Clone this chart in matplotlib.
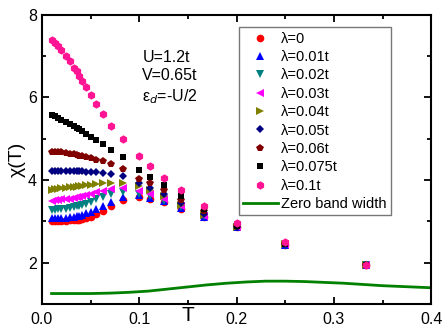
import matplotlib
matplotlib.use("Agg")
from matplotlib import pyplot as plt

# temperatures of the data points
T = [0.01, 0.0133, 0.0167, 0.02, 0.025, 0.0286, 0.0333, 0.0357, 0.0385, 0.0417,
     0.0455, 0.05, 0.0556, 0.0625, 0.0714, 0.0833, 0.1, 0.111, 0.125, 0.143,
     0.167, 0.2, 0.25, 0.333]

chi_0 = [3.00, 3.00, 3.00, 3.01, 3.01, 3.02, 3.02, 3.03, 3.04, 3.06, 3.08, 3.11,
         3.17, 3.26, 3.38, 3.52, 3.60, 3.55, 3.46, 3.31, 3.10, 2.85, 2.43, 1.93]
chi_001 = [3.08, 3.08, 3.08, 3.09, 3.09, 3.10, 3.10, 3.12, 3.14, 3.16, 3.19, 3.22,
           3.30, 3.37, 3.47, 3.60, 3.63, 3.57, 3.48, 3.32, 3.11, 2.85, 2.43, 1.93]
chi_002 = [3.27, 3.28, 3.29, 3.30, 3.31, 3.32, 3.34, 3.36, 3.38, 3.40, 3.43, 3.47,
           3.54, 3.60, 3.67, 3.71, 3.67, 3.61, 3.50, 3.34, 3.12, 2.86, 2.43, 1.93]
chi_003 = [3.50, 3.51, 3.52, 3.53, 3.54, 3.55, 3.56, 3.58, 3.60, 3.62, 3.64, 3.67,
           3.71, 3.74, 3.78, 3.80, 3.74, 3.67, 3.54, 3.36, 3.13, 2.86, 2.44, 1.94]
chi_004 = [3.77, 3.78, 3.79, 3.80, 3.81, 3.82, 3.83, 3.84, 3.85, 3.86, 3.87, 3.88,
           3.90, 3.92, 3.93, 3.93, 3.85, 3.75, 3.62, 3.40, 3.16, 2.86, 2.44, 1.94]
chi_005 = [4.21, 4.21, 4.21, 4.21, 4.21, 4.21, 4.21, 4.21, 4.21, 4.21, 4.20, 4.20,
           4.19, 4.18, 4.15, 4.09, 3.93, 3.80, 3.67, 3.45, 3.18, 2.87, 2.44, 1.94]
chi_006 = [4.68, 4.68, 4.67, 4.67, 4.65, 4.64, 4.62, 4.61, 4.59, 4.57, 4.55, 4.53,
           4.49, 4.45, 4.38, 4.27, 4.03, 3.92, 3.76, 3.52, 3.24, 2.88, 2.45, 1.94]
chi_0075 = [5.58, 5.54, 5.50, 5.46, 5.40, 5.36, 5.30, 5.27, 5.23, 5.18, 5.12, 5.04,
            4.96, 4.87, 4.72, 4.56, 4.25, 4.07, 3.89, 3.62, 3.30, 2.88, 2.45, 1.94]
chi_01 = [7.40, 7.32, 7.24, 7.15, 7.00, 6.88, 6.72, 6.63, 6.52, 6.41, 6.25, 6.05,
          5.84, 5.60, 5.30, 5.00, 4.57, 4.33, 4.06, 3.75, 3.38, 2.97, 2.50, 1.95]

# zero band width curve
T_zb = [0.01, 0.03, 0.05, 0.07, 0.09, 0.11, 0.13, 0.15, 0.17, 0.19, 0.21, 0.23,
        0.25, 0.27, 0.29, 0.31, 0.33, 0.35, 0.37, 0.4]
chi_zb = [1.25, 1.25, 1.25, 1.26, 1.28, 1.31, 1.36, 1.41, 1.46, 1.50, 1.53, 1.55,
          1.55, 1.54, 1.52, 1.50, 1.47, 1.44, 1.42, 1.39]

labels = ["λ=0", "λ=0.01t", "λ=0.02t", "λ=0.03t", "λ=0.04t", "λ=0.05t",
          "λ=0.06t", "λ=0.075t", "λ=0.1t"]
series = [chi_0, chi_001, chi_002, chi_003, chi_004, chi_005, chi_006, chi_0075, chi_01]
markers = ["o", "^", "v", "<", ">", "D", "p", "s", "h"]
colors = ["#ff0000", "#0000ff", "#008080", "#ff00ff", "#808000", "#000080",
          "#800000", "#000000", "#ff1493"]
sizes = [5.5, 5.5, 5.5, 5.5, 5.5, 4.5, 5.5, 5, 6]

plt.rcParams["font.family"] = "Liberation Sans"
fig = plt.figure(figsize=(4.45, 3.31), dpi=100)
ax = fig.add_axes([0.094, 0.082, 0.875, 0.873])

for chi, lab, m, c, s in zip(series, labels, markers, colors, sizes):
    ax.plot(T, chi, linestyle="none", marker=m, color=c, markersize=s,
            markeredgewidth=0, label=lab)
ax.plot(T_zb, chi_zb, color="#008000", linewidth=2, label="Zero band width")

ax.set_xlim(0, 0.4)
ax.set_ylim(1, 8)
ax.set_xticks([0.0, 0.1, 0.2, 0.3, 0.4])
ax.set_xticks([0.05, 0.15, 0.25, 0.35], minor=True)
ax.set_yticks([2, 4, 6, 8])
ax.set_yticks([1, 3, 5, 7], minor=True)
ax.set_xticklabels(["0.0", "0.1", "0.2", "0.3", "0.4"])
ax.tick_params(which="both", direction="in", top=True, right=True,
               width=1.3, labelsize=11.5)
ax.tick_params(which="major", length=5)
ax.tick_params(which="minor", length=3)
ax.tick_params(axis="x", pad=6)
for sp in ax.spines.values():
    sp.set_linewidth(1.5)

ax.set_ylabel("χ(T)", fontsize=14)
ax.yaxis.set_label_coords(-0.042, 0.5)
ax.set_xlabel("T", fontsize=15)
ax.xaxis.set_label_coords(0.375, -0.008)

ax.text(0.258, 0.88, "U=1.2t\nV=0.65t\nε$_d$=-U/2", transform=ax.transAxes,
        fontsize=11.5, va="top", ha="left", linespacing=1.3)

leg = ax.legend(loc="upper right", bbox_to_anchor=(0.896, 0.957), fontsize=10.5,
                frameon=True, fancybox=False, edgecolor="#555555",
                handlelength=2.4, handletextpad=0.2, borderpad=0.3,
                labelspacing=0.3, borderaxespad=0)
leg.get_frame().set_linewidth(1.0)

fig.savefig("out.png", dpi=100)
